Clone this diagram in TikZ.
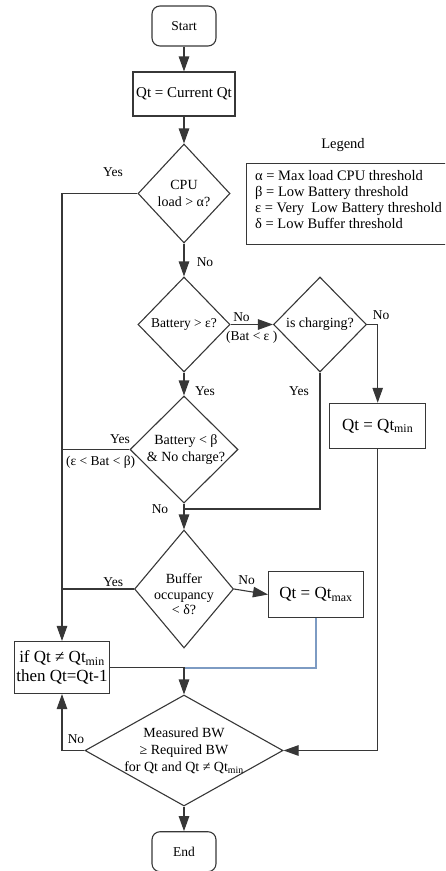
\documentclass[tikz,border=0pt]{standalone}
\usepackage{fontspec}
\setmainfont{Liberation Serif}
\usetikzlibrary{shapes.geometric,arrows.meta}
\definecolor{ln}{RGB}{55,55,55}
\definecolor{bl}{RGB}{125,155,195}
\newcommand{\fsz}[2]{\fontsize{#1}{#2}\selectfont}
\begin{document}
\begin{tikzpicture}[x=1pt,y=-1pt,
  boxn/.style={draw=ln, line width=1.1pt, rectangle, inner sep=0pt, align=center},
  dia/.style={draw=ln, line width=1.1pt, diamond, inner sep=0pt},
  dtxt/.style={inner sep=0pt, align=center, font=\fsz{14}{17}},
  con/.style={ln, line width=1.1pt},
  arr/.style={ln, line width=1.1pt, -{Triangle[length=15pt,width=10.5pt]}},
  lbl/.style={inner sep=0pt, font=\fsz{13.5}{16}}
]
\useasboundingbox (0,0) rectangle (445,871);
\clip (0,0) rectangle (445,871);

% terminals and boxes
\node[boxn, rounded corners=8pt, minimum width=64pt, minimum height=40pt, font=\fsz{13.5}{16}] (start) at (184,26) {Start};
\node[boxn, minimum width=102pt, minimum height=44pt, font=\fsz{15}{18}] (qt) at (184,94) {Qt = Current Qt};

% diamonds
\node[dia, minimum width=92pt, minimum height=99pt] (cpu) at (184,193.5) {};
\node[dtxt] (cpuT) at (cpu) {CPU\\load > α?};

\node[dia, minimum width=92pt, minimum height=95pt] (bat) at (184,324.5) {};
\node[dtxt, font=\fsz{13.5}{16}] (batT) at (bat) {Battery > ε?};

\node[dia, minimum width=93pt, minimum height=95pt] (chg) at (320,324.5) {};
\node[dtxt] (chgT) at (chg) {is charging?};

\node[boxn, minimum width=96pt, minimum height=45pt, font=\fsz{17}{20}] (qmin) at (377.7,425.8) {Qt = Qt\textsubscript{min}};

\node[dia, minimum width=108pt, minimum height=107pt] (low) at (184,449.5) {};
\node[dtxt] (lowT) at (186,449.5) {Battery < β\\\& No charge?};

\node[dia, minimum width=99pt, minimum height=118pt] (buf) at (184,589) {};
\node[dtxt, font=\fsz{14}{15.5}] (bufT) at (184,594.5) {Buffer\\occupancy\\< δ?};

\node[boxn, minimum width=95pt, minimum height=46pt, font=\fsz{17}{20}] (qmax) at (316,594.5) {Qt = Qt\textsubscript{max}};

\node[boxn, minimum width=95pt, minimum height=52pt, font=\fsz{17}{19}] (ifb) at (62,667.5) {if Qt ≠ Qt\textsubscript{min}\\then Qt=Qt-1};

\node[dia, minimum width=198pt, minimum height=111pt] (meas) at (184,750.5) {};
\node[dtxt, font=\fsz{14}{17}] (measT) at (184,750.5) {Measured BW\\≥ Required BW\\for Qt and Qt ≠ Qt\textsubscript{min}};

\node[boxn, rounded corners=8pt, minimum width=64pt, minimum height=40pt, font=\fsz{13.5}{16}] (end) at (184,851.7) {End};

% legend
\node[lbl, font=\fsz{14.5}{16}] (legT) at (343,145) {Legend};
\node[draw=ln, line width=1.1pt, anchor=north west, minimum width=205pt, minimum height=81.6pt, inner sep=0pt] (leg) at (245.7,162.7) {};
\node[inner sep=0pt, anchor=west, align=left, font=\fsz{14.5}{15.9}] (legL) at (255,199.5) {α = Max load CPU threshold\\β = Low Battery threshold\\ε = Very\ \ Low Battery threshold\\δ = Low Buffer threshold};

% junction coordinates
\coordinate (j1) at (184,509);
\coordinate (j2) at (184,668);

% connectors
\draw[arr] (start.south) -- (qt.north);
\draw[arr] (qt.south) -- (cpu.north);
\draw[arr] (cpu.west) -| (ifb.north);
\draw[arr] (cpu.south) -- (bat.north);
\draw[arr] (bat.east) -- (chg.west);
\draw[arr] (chg.east) -| (qmin.north);
\draw[arr] (bat.south) -- (low.north);
\draw[con] (low.west) -- (low.west -| ifb.north);
\draw[con] (chg.south) |- (j1);
\draw[arr] (low.south) -- (buf.north);
\draw[con] (buf.west) -- (buf.west -| ifb.north);
\draw[arr] (buf.east) -- (qmax.west);
\draw[bl, line width=1.1pt] (qmax.south) |- (j2);
\draw[arr] (ifb.east) -| (meas.north);
\draw[arr] (qmin.south) |- (meas.east);
\draw[arr] (meas.west) -| (ifb.south);
\draw[arr] (meas.south) -- (end.north);

% labels
\node[lbl] (l1) at (113,172) {Yes};
\node[lbl] (l2) at (205,262) {No};
\node[lbl] (l3) at (241.5,317) {No};
\node[lbl] (l4) at (251.7,337.5) {(Bat < ε )};
\node[lbl] (l5) at (381,315) {No};
\node[lbl] (l6) at (299,390.7) {Yes};
\node[lbl] (l7) at (205,390.7) {Yes};
\node[lbl] (l8) at (120,439) {Yes};
\node[lbl] (l9) at (100.7,461.7) {(ε < Bat < β)};
\node[lbl] (l10) at (160,509) {No};
\node[lbl] (l11) at (113.3,581.7) {Yes};
\node[lbl] (l12) at (246.7,580) {No};
\node[lbl] (l13) at (76,739) {No};
\end{tikzpicture}
\end{document}
